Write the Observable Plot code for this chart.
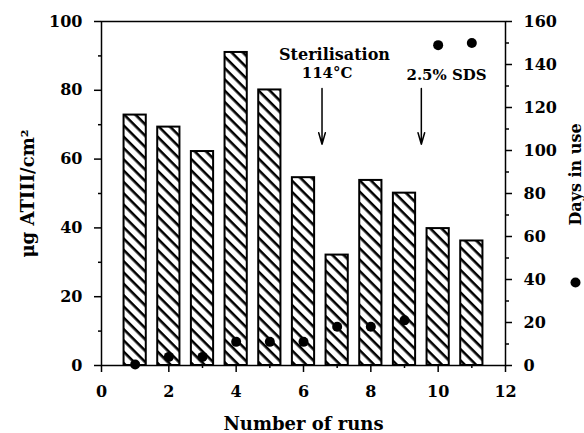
<!DOCTYPE html>
<html><head><meta charset="utf-8">
<script src="https://cdn.jsdelivr.net/npm/d3@7"></script>
<script src="https://cdn.jsdelivr.net/npm/@observablehq/plot@0.6"></script>
<style>
body{margin:0;background:#fff}
#chart svg{font-family:"DejaVu Serif",serif;font-weight:bold}
</style>
</head><body><div id="chart"></div>
<script>
const runs = [1, 2, 3, 4, 5, 6, 7, 8, 9, 10, 11];
const atiii = [72.8, 69.3, 62.2, 91.0, 80.1, 54.6, 32.1, 53.8, 50.1, 39.8, 36.2];
const daysInUse = [0.5, 4, 4, 11, 11, 11, 18, 18, 21, 149, 150];
const xMajorTicks = [0, 2, 4, 6, 8, 10, 12];
const xMinorTicks = [1, 3, 5, 7, 9, 11];
const leftTicks = [0, 20, 40, 60, 80, 100];
const leftMinor = [10, 30, 50, 70, 90];
const rightTicks = [0, 20, 40, 60, 80, 100, 120, 140, 160];
const rightMinor = [10, 30, 50, 70, 90, 110, 130, 150];
const annotText = ["Sterilisation", "114°C", "2.5% SDS"];
const annotX = [6.92, 6.7, 10.25];
const annotY = [90.4, 84.9, 84.3];
const arrowX = [6.55, 9.5];
const arrowTop = [80.5, 80.5];
const arrowBottom = [64.3, 64.3];
const xLabel = "Number of runs";
const yLabel = "μg ATIII/cm²";
const y2Label = "Days in use";

const daysMax = 160, yMax = 100, k = daysMax / yMax;
const bars = runs.map((r, i) => ({run: r, value: atiii[i]}));
const dots = runs.map((r, i) => ({run: r, days: daysInUse[i]}));
const notes = annotText.map((t, i) => ({t, x: annotX[i], y: annotY[i], big: i === 0}));
const arrows = arrowX.map((x, i) => ({x, y1: arrowTop[i], y2: arrowBottom[i]}));
const halfW = 0.33;

const chart = Plot.plot({
  width: 584, height: 433,
  marginLeft: 101, marginRight: 79, marginTop: 21, marginBottom: 68,
  style: {fontSize: "16px", fontFamily: "DejaVu Serif", fontWeight: "bold", color: "black", background: "white"},
  x: {domain: [0, 12], axis: null},
  y: {domain: [0, yMax], axis: null},
  marks: [
    Plot.rectY(bars, {x1: d => d.run - halfW, x2: d => d.run + halfW, y1: 0, y2: "value", fill: "url(#hatch)", stroke: "black", strokeWidth: 2}),
    Plot.dot(dots, {x: "run", y: d => d.days / k, r: 5, fill: "black"}),
    Plot.frame({stroke: "black", strokeWidth: 1.5}),
    Plot.axisX(xMajorTicks, {tickSize: 7, tickPadding: 13, label: null, strokeWidth: 1.5}),
    Plot.axisX(xMinorTicks, {tickSize: 3, tickFormat: () => "", label: null, strokeWidth: 1.5}),
    Plot.axisY(leftTicks, {anchor: "left", tickSize: 7, tickPadding: 12, label: null, strokeWidth: 1.5}),
    Plot.axisY(leftMinor, {anchor: "left", tickSize: 3, tickFormat: () => "", label: null, strokeWidth: 1.5}),
    Plot.axisY(rightTicks.map(v => v / k), {anchor: "right", tickSize: 6, tickPadding: 12, tickFormat: d => Math.round(d * k), label: null, strokeWidth: 1.5}),
    Plot.axisY(rightMinor.map(v => v / k), {anchor: "right", tickSize: 3, tickFormat: () => "", label: null, strokeWidth: 1.5}),
    Plot.text(notes.filter(d => d.big), {x: "x", y: "y", text: "t", fontSize: 16, fontWeight: "bold"}),
    Plot.text(notes.filter(d => !d.big), {x: "x", y: "y", text: "t", fontSize: 15, fontWeight: "bold"}),
    Plot.arrow(arrows, {x1: "x", x2: "x", y1: "y1", y2: "y2", headAngle: 32, headLength: 12, strokeWidth: 1.5, stroke: "black"}),
    Plot.text([xLabel], {frameAnchor: "bottom", textAnchor: "middle", dy: 64, fontSize: 18, fontWeight: "bold"}),
    Plot.text([yLabel], {frameAnchor: "left", textAnchor: "middle", dx: -73, rotate: -90, fontSize: 18, fontWeight: "bold"}),
    Plot.text([y2Label], {frameAnchor: "right", textAnchor: "middle", dx: 70, dy: -19, rotate: -90, fontSize: 16, fontWeight: "bold"}),
    Plot.dot([y2Label], {frameAnchor: "right", dx: 70, dy: 89, r: 5, fill: "black"})
  ]
});

const svg = d3.select(chart);
svg.insert("defs", ":first-child").html(
  '<pattern id="hatch" patternUnits="userSpaceOnUse" width="8" height="8" patternTransform="rotate(45)">' +
  '<rect width="8" height="8" fill="white"/><rect x="0" y="0" width="8" height="2.6" fill="black"/></pattern>'
);
document.getElementById("chart").appendChild(chart);
</script>
</body></html>
